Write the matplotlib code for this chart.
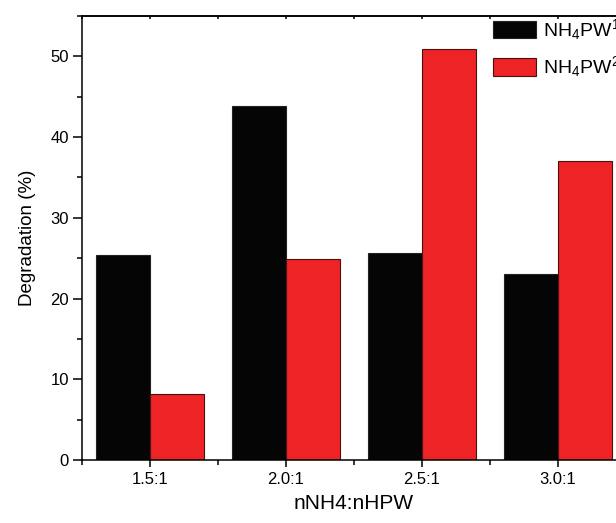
import matplotlib.pyplot as plt
import numpy as np
from matplotlib.ticker import MultipleLocator, FixedLocator, NullFormatter

plt.rcParams['font.family'] = ['Liberation Sans', 'DejaVu Sans']
plt.rcParams['mathtext.fontset'] = 'custom'
plt.rcParams['mathtext.rm'] = 'Liberation Sans'
plt.rcParams['mathtext.it'] = 'Liberation Sans'

ratios = ['1.5:1', '2.0:1', '2.5:1', '3.0:1']
pw1 = [25.4, 43.8, 25.6, 23.1]
pw2 = [8.2, 24.9, 50.9, 37.0]
series_names = [r'NH$_4$PW$^1$', r'NH$_4$PW$^2$']

fig = plt.figure(figsize=(6.16, 5.23), dpi=100)
# axes run past the right edge of the figure on purpose
ax = fig.add_axes([82 / 616, 63 / 523, 544 / 616, 444 / 523])

x = np.arange(1, len(ratios) + 1)
w = 0.4
ax.bar(x - w / 2, pw1, width=w, color='#050505', edgecolor='#222222',
       linewidth=0.8, label=series_names[0])
ax.bar(x + w / 2, pw2, width=w, color='#ee2326', edgecolor='#4a1010',
       linewidth=0.8, label=series_names[1])

ax.set_xlim(0.5, 4.5)
ax.set_ylim(0, 55)
ax.set_xticks(x)
ax.set_xticklabels(ratios)
ax.xaxis.set_minor_locator(FixedLocator([0.5, 1.5, 2.5, 3.5, 4.5]))
ax.yaxis.set_major_locator(MultipleLocator(10))
ax.yaxis.set_minor_locator(MultipleLocator(5))

ax.tick_params(axis='y', which='major', direction='out', length=6.5,
               width=1.1, labelsize=12, pad=3)
ax.tick_params(axis='y', which='minor', direction='out', length=3.6, width=1.1)
ax.tick_params(axis='x', which='major', direction='out', length=5,
               width=1.1, labelsize=12, pad=4)
ax.tick_params(axis='x', which='minor', direction='out', length=3.6, width=1.1)
for s in ax.spines.values():
    s.set_linewidth(1.1)

# small inward ticks along the top edge
top = ax.secondary_xaxis('top')
top.set_xticks(x)
top.xaxis.set_minor_locator(FixedLocator([0.5, 1.5, 2.5, 3.5, 4.5]))
top.xaxis.set_major_formatter(NullFormatter())
top.tick_params(which='both', direction='in', length=2, width=1.1)
top.spines['top'].set_linewidth(1.1)

ax.set_xlabel('nNH4:nHPW', fontsize=15, labelpad=5)
ax.set_ylabel('Degradation (%)', fontsize=13.5, labelpad=10)

ax.legend(loc='upper left', bbox_to_anchor=(493 / 616, 1 - 17 / 523),
          bbox_transform=fig.transFigure, frameon=False, fontsize=14,
          borderpad=0, borderaxespad=0, handlelength=2.2, handleheight=1.0,
          handletextpad=0.35, labelspacing=0.65)

fig.savefig('out.png', dpi=100)
